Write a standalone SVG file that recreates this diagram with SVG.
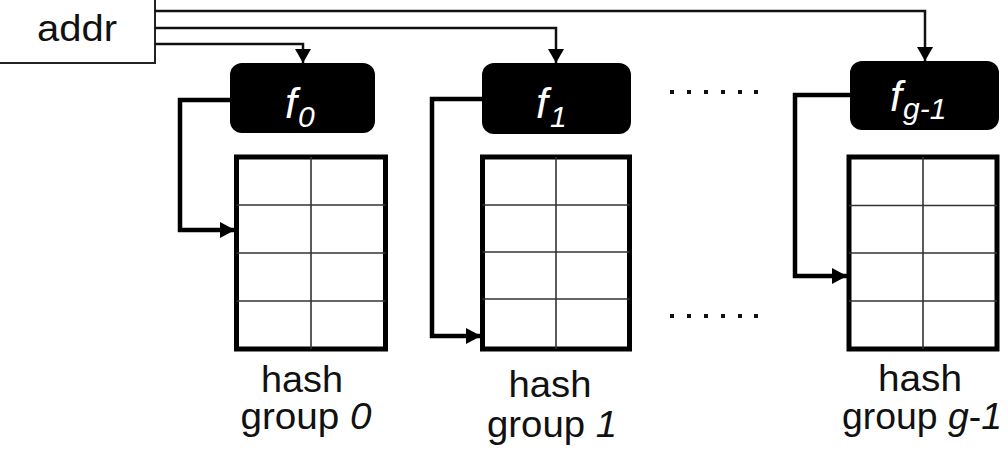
<svg xmlns="http://www.w3.org/2000/svg" width="1008" height="452" viewBox="0 0 1008 452">
  <style>
    .lbl { font-family: "Liberation Sans", Arial, sans-serif; font-size: 37px; fill: #111; }
    .fn { font-family: "Liberation Sans", Arial, sans-serif; font-style: italic; font-size: 43px; fill: #fff; }
    .fbox { fill: #000; }
    .tbl { fill: #fff; stroke: #000; stroke-width: 5; }
    .cell { stroke: #333; stroke-width: 1.6; fill: none; }
    .thin { fill: none; stroke: #111; stroke-width: 2.5; marker-end: url(#headThin); }
    .thick { fill: none; stroke: #000; stroke-width: 4.5; marker-end: url(#headThick); }
    .dot { fill: #111; }
  </style>
  <defs>
    <marker id="headThin" markerUnits="userSpaceOnUse" markerWidth="16" markerHeight="16" viewBox="0 0 14 16" refX="14" refY="8" orient="auto">
      <path d="M0,0 L14,8 L0,16 Z" fill="#000"/>
    </marker>
    <marker id="headThick" markerUnits="userSpaceOnUse" markerWidth="16" markerHeight="16" viewBox="0 0 15 16" refX="15" refY="8" orient="auto">
      <path d="M0,0 L15,8 L0,16 Z" fill="#000"/>
    </marker>
  </defs>
  <rect width="1008" height="452" fill="#fff"/>

  <!-- address source -->
  <g id="addr">
    <rect x="-1" y="-1" width="156" height="64" fill="#fff" stroke="#222" stroke-width="2"/>
    <text class="lbl" x="77" y="41" text-anchor="middle" textLength="80" lengthAdjust="spacingAndGlyphs">addr</text>
  </g>

  <!-- hash functions -->
  <g id="f0">
    <rect class="fbox" x="230" y="63" width="145" height="70" rx="12"/>
    <text class="fn" x="285" y="118">f<tspan font-size="30" dx="1" dy="9">0</tspan></text>
  </g>
  <g id="f1">
    <rect class="fbox" x="482" y="63" width="149" height="71" rx="12"/>
    <text class="fn" x="536" y="118">f<tspan font-size="30" dx="2" dy="9">1</tspan></text>
  </g>
  <g id="fg1">
    <rect class="fbox" x="850" y="61" width="149" height="69" rx="12"/>
    <text class="fn" x="890" y="111">f<tspan font-size="30" dx="1" dy="8">g-1</tspan></text>
  </g>

  <!-- hash tables -->
  <g id="group0">
    <rect class="tbl" x="236.5" y="157" width="149" height="192"/>
    <path class="cell" d="M311,157 V349 M236.5,205 H385.5 M236.5,253 H385.5 M236.5,301 H385.5"/>
    <text class="lbl" x="302" y="392" text-anchor="middle" textLength="82" lengthAdjust="spacingAndGlyphs">hash</text>
    <text class="lbl" x="306" y="429" text-anchor="middle" textLength="131" lengthAdjust="spacingAndGlyphs">group <tspan font-style="italic">0</tspan></text>
  </g>
  <g id="group1">
    <rect class="tbl" x="482.5" y="157" width="147" height="192"/>
    <path class="cell" d="M556,157 V349 M482.5,205 H629.5 M482.5,252 H629.5 M482.5,299 H629.5"/>
    <text class="lbl" x="550" y="397" text-anchor="middle" textLength="83" lengthAdjust="spacingAndGlyphs">hash</text>
    <text class="lbl" x="552" y="437" text-anchor="middle" textLength="130" lengthAdjust="spacingAndGlyphs">group <tspan font-style="italic">1</tspan></text>
  </g>
  <g id="groupg1">
    <rect class="tbl" x="849" y="157" width="148" height="192"/>
    <path class="cell" d="M923,157 V349 M849,205.5 H997 M849,253 H997 M849,301 H997"/>
    <text class="lbl" x="920" y="391" text-anchor="middle" textLength="84" lengthAdjust="spacingAndGlyphs">hash</text>
    <text class="lbl" x="922" y="429" text-anchor="middle" textLength="160" lengthAdjust="spacingAndGlyphs">group <tspan font-style="italic">g</tspan>-<tspan font-style="italic">1</tspan></text>
  </g>

  <!-- ellipsis between groups -->
  <g id="ellipsis">
    <rect class="dot" x="670" y="90" width="4" height="4"/>
    <rect class="dot" x="687" y="90" width="4" height="4"/>
    <rect class="dot" x="704" y="90" width="4" height="4"/>
    <rect class="dot" x="721" y="90" width="4" height="4"/>
    <rect class="dot" x="738" y="90" width="4" height="4"/>
    <rect class="dot" x="754" y="90" width="4" height="4"/>
    <rect class="dot" x="670" y="314" width="4" height="4"/>
    <rect class="dot" x="687" y="314" width="4" height="4"/>
    <rect class="dot" x="704" y="314" width="4" height="4"/>
    <rect class="dot" x="721" y="314" width="4" height="4"/>
    <rect class="dot" x="738" y="314" width="4" height="4"/>
    <rect class="dot" x="754" y="314" width="4" height="4"/>
  </g>

  <!-- connectors -->
  <g id="connectors">
    <path class="thin" d="M155,11 H925 V61"/>
    <path class="thin" d="M155,28 H556 V63"/>
    <path class="thin" d="M155,44 H303 V63"/>
    <path class="thick" d="M230,100 H180 V230 H235"/>
    <path class="thick" d="M482,99 H432 V336 H481"/>
    <path class="thick" d="M850,95 H795 V276 H847"/>
  </g>
</svg>
